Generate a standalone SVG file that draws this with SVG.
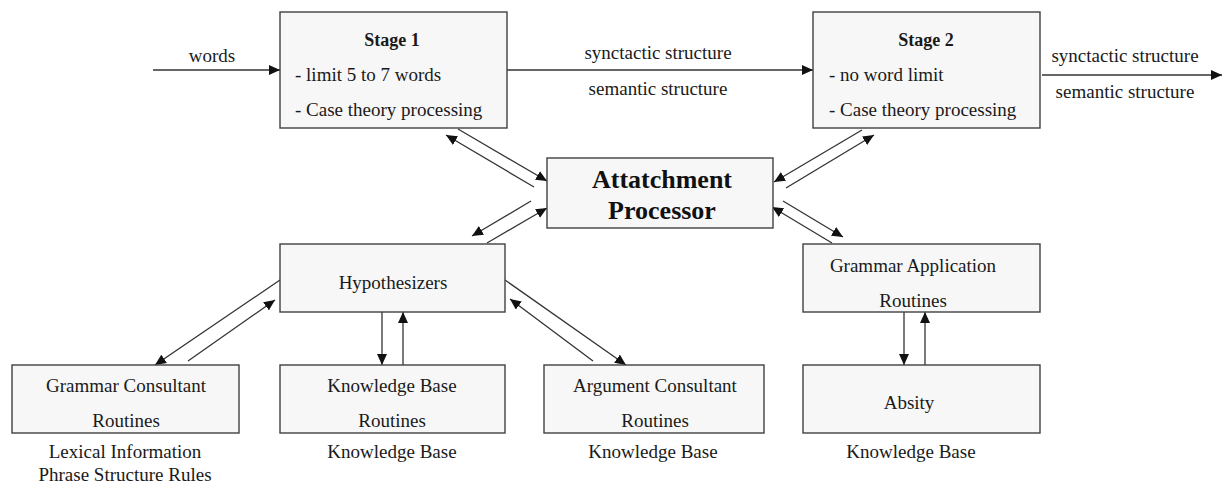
<svg xmlns="http://www.w3.org/2000/svg" width="1222" height="483" viewBox="0 0 1222 483">
<style>
.box{fill:#f7f7f7;stroke:#404040;stroke-width:1.4}
.t{font-family:"Liberation Serif","Times New Roman",serif;font-size:19px;fill:#1a1a1a}
.c{text-anchor:middle}
.b{font-weight:bold;font-size:18px}
.big{font-family:"Liberation Serif","Times New Roman",serif;font-size:26px;font-weight:bold;fill:#111;text-anchor:middle}
.ln{stroke:#333;stroke-width:1.3;fill:none;marker-end:url(#ah)}
</style>
<defs>
<marker id="ah" markerUnits="userSpaceOnUse" markerWidth="12" markerHeight="10" refX="11" refY="5" orient="auto">
<path d="M0,0 L11,5 L0,10 Z" fill="#111"/>
</marker>
</defs>
<rect width="1222" height="483" fill="#fff"/>
<g id="connectors">
<line class="ln" x1="153" y1="70" x2="280" y2="70"/>
<line class="ln" x1="507" y1="70" x2="813" y2="70"/>
<line class="ln" x1="1042" y1="75" x2="1222" y2="75"/>
<line class="ln" x1="458" y1="129" x2="547" y2="181"/>
<line class="ln" x1="534" y1="187" x2="446" y2="135"/>
<line class="ln" x1="531" y1="201" x2="472" y2="236"/>
<line class="ln" x1="487" y1="243" x2="547" y2="208"/>
<line class="ln" x1="862" y1="130" x2="774" y2="182"/>
<line class="ln" x1="786" y1="188" x2="874" y2="135"/>
<line class="ln" x1="783" y1="201" x2="843" y2="237"/>
<line class="ln" x1="832" y1="243" x2="772" y2="207"/>
<line class="ln" x1="280" y1="280" x2="155" y2="365"/>
<line class="ln" x1="188" y1="361" x2="275" y2="300"/>
<line class="ln" x1="382" y1="312" x2="382" y2="365"/>
<line class="ln" x1="403" y1="365" x2="403" y2="312"/>
<line class="ln" x1="505" y1="280" x2="626" y2="365"/>
<line class="ln" x1="593" y1="361" x2="510" y2="299"/>
<line class="ln" x1="904" y1="312" x2="904" y2="365"/>
<line class="ln" x1="925" y1="365" x2="925" y2="312"/>
<text class="t c" x="212" y="62">words</text>
<text class="t c" x="658" y="59">synctactic structure</text>
<text class="t c" x="658" y="95">semantic structure</text>
<text class="t c" x="1125" y="62">synctactic structure</text>
<text class="t c" x="1125" y="98">semantic structure</text>
</g>
<g id="stage1">
<rect class="box" x="280" y="12" width="227" height="116"/>
<text class="t c b" x="392" y="46">Stage 1</text>
<text class="t" x="295" y="81">- limit 5 to 7 words</text>
<text class="t" x="295" y="116">- Case theory processing</text>
</g>
<g id="stage2">
<rect class="box" x="813" y="12" width="227" height="116"/>
<text class="t c b" x="926" y="46">Stage 2</text>
<text class="t" x="829" y="81">- no word limit</text>
<text class="t" x="829" y="116">- Case theory processing</text>
</g>
<g id="attachment">
<rect class="box" x="547" y="158" width="226" height="70"/>
<text class="big" x="662" y="188">Attatchment</text>
<text class="big" x="662" y="219">Processor</text>
</g>
<g id="hypothesizers">
<rect class="box" x="280" y="244" width="225" height="68"/>
<text class="t c" x="393" y="289">Hypothesizers</text>
</g>
<g id="grammar-application">
<rect class="box" x="803" y="244" width="237" height="68"/>
<text class="t c" x="913" y="272">Grammar Application</text>
<text class="t c" x="913" y="307">Routines</text>
</g>
<g id="grammar-consultant">
<rect class="box" x="12" y="365" width="227" height="68"/>
<text class="t c" x="126" y="392">Grammar Consultant</text>
<text class="t c" x="126" y="427">Routines</text>
<text class="t c" x="125" y="458">Lexical Information</text>
<text class="t c" x="125" y="481">Phrase Structure Rules</text>
</g>
<g id="knowledge-base">
<rect class="box" x="280" y="365" width="225" height="68"/>
<text class="t c" x="392" y="392">Knowledge Base</text>
<text class="t c" x="392" y="427">Routines</text>
<text class="t c" x="392" y="458">Knowledge Base</text>
</g>
<g id="argument-consultant">
<rect class="box" x="544" y="365" width="220" height="68"/>
<text class="t c" x="655" y="392">Argument Consultant</text>
<text class="t c" x="655" y="427">Routines</text>
<text class="t c" x="653" y="458">Knowledge Base</text>
</g>
<g id="absity">
<rect class="box" x="803" y="365" width="237" height="68"/>
<text class="t c" x="909" y="409">Absity</text>
<text class="t c" x="911" y="458">Knowledge Base</text>
</g>
</svg>
